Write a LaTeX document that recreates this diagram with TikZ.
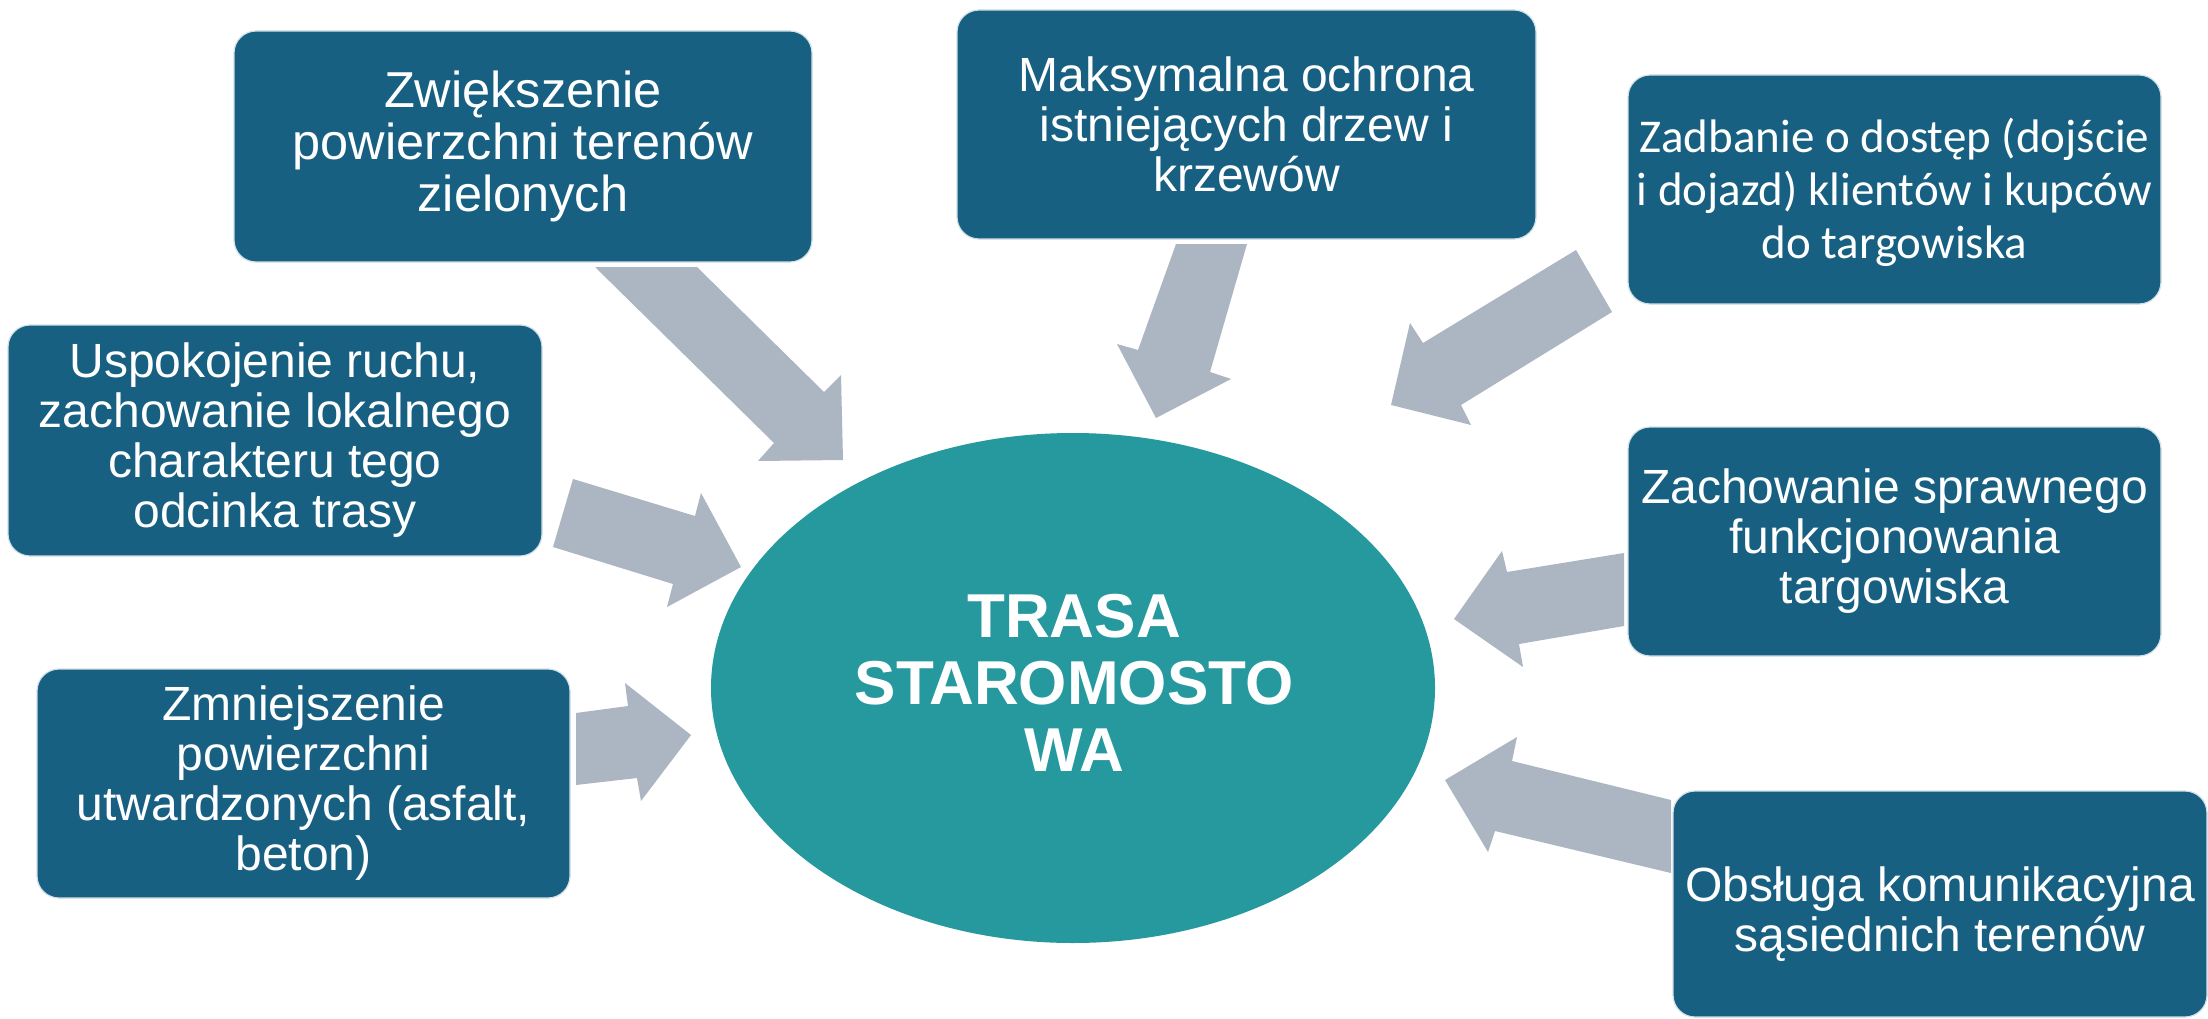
\documentclass[tikz,border=0pt]{standalone}
\usepackage{fontspec}
\setmainfont{Liberation Sans}
\newfontfamily\calibri{Carlito}
\usetikzlibrary{shapes.geometric}
\definecolor{boxblue}{RGB}{24,96,130}
\definecolor{teal}{RGB}{38,153,158}
\definecolor{arrowgray}{RGB}{171,182,194}
\tikzset{
  goalbox/.style={rectangle, rounded corners=22pt, fill=boxblue, draw=white!80!boxblue, line width=1.2pt,
    inner sep=0pt, text=white, align=center, font={\fontsize{48}{50}\selectfont}},
  blockarrow/.style={fill=arrowgray, draw=none},
  center/.style={ellipse, fill=teal, draw=none, inner sep=0pt}
}
\begin{document}
\begin{tikzpicture}[x=1pt,y=-1pt]
\useasboundingbox (0,0) rectangle (2208,1019);
\fill[white] (0,0) rectangle (2208,1019);

% central ellipse
\node[center, minimum width=724pt, minimum height=510pt] (c) at (1073,688) {};
\node[text=white, align=center, font={\bfseries\fontsize{62}{67}\selectfont}] (ct) at (1074,683) {TRASA\\STAROMOSTO\\WA};

% goal boxes
\node[goalbox, minimum width=578pt, minimum height=231pt, font={\fontsize{50.5}{52}\selectfont}] (b1) at (523,146.5)
  {Zwiększenie\\powierzchni terenów\\zielonych};
\node[goalbox, minimum width=579pt, minimum height=229pt] (b2) at (1246.5,124.5)
  {Maksymalna ochrona\\istniejących drzew i\\krzewów};
\node[goalbox, minimum width=533pt, minimum height=229pt] (b3) at (1894.5,189.5) {};
\node[text=white, align=center, inner sep=0pt, font={\calibri\fontsize{47}{53}\selectfont}] (b3t) at (1894.5,192)
  {Zadbanie o dostęp (dojście\\i dojazd) klientów i kupców\\do targowiska};
\node[goalbox, minimum width=534pt, minimum height=231pt] (b4) at (275,440.5)
  {Uspokojenie ruchu,\\zachowanie lokalnego\\charakteru tego\\odcinka trasy};
\node[goalbox, minimum width=533pt, minimum height=229pt] (b5) at (1894.5,541.5)
  {Zachowanie sprawnego\\funkcjonowania\\targowiska};
\node[goalbox, minimum width=533pt, minimum height=229pt] (b6) at (303.5,783.5)
  {Zmniejszenie\\powierzchni\\utwardzonych (asfalt,\\beton)};
\node[goalbox, minimum width=534pt, minimum height=226pt] (b7) at (1940,904) {};
\node[text=white, align=center, inner sep=0pt, font={\fontsize{48}{50}\selectfont}] (b7t) at (1940,914)
  {Obsługa komunikacyjna\\sąsiednich terenów};

% block arrows (from boxes towards the ellipse)
\fill[blockarrow] (595,267) -- (697,267) -- (824,392) -- (841,375) -- (843,460) -- (758,461) -- (774,443) -- cycle;
\fill[blockarrow] (1176,244) -- (1247,244) -- (1210,372) -- (1231,379) -- (1156,418) -- (1117,344) -- (1138,350) -- cycle;
\fill[blockarrow] (1576,250) -- (1612,312) -- (1461,405) -- (1471,425) -- (1391,405) -- (1410,323) -- (1423,343) -- cycle;
\fill[blockarrow] (573,479) -- (695,516) -- (701,493) -- (741,567) -- (667,607) -- (673,584) -- (553,547) -- cycle;
\fill[blockarrow] (576,713) -- (628,706) -- (625,683) -- (691,735) -- (641,801) -- (637,778) -- (576,785) -- cycle;
\fill[blockarrow] (1624,553) -- (1507,572) -- (1502,551) -- (1454,619) -- (1523,667) -- (1519,644) -- (1624,626) -- cycle;
\fill[blockarrow] (1671,800) -- (1512,761) -- (1517,737) -- (1445,780) -- (1488,852) -- (1495,831) -- (1671,873) -- cycle;
\end{tikzpicture}
\end{document}
